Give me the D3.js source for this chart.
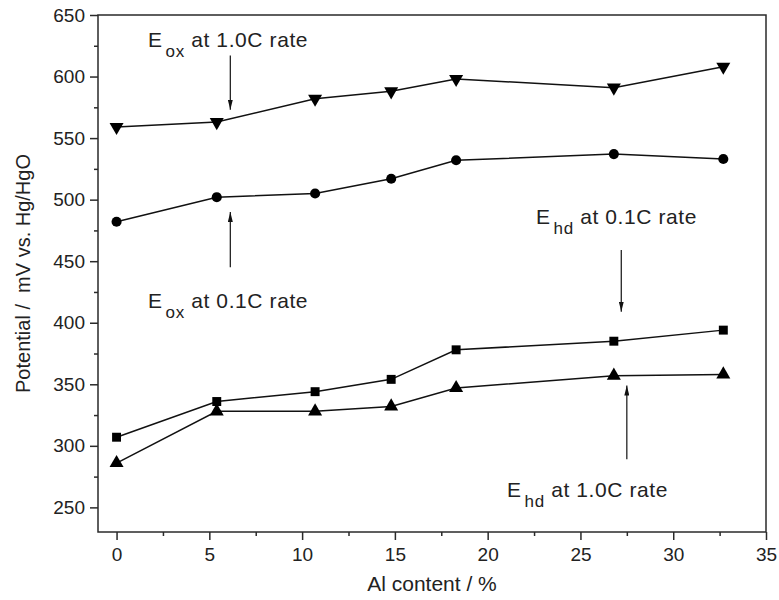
<!DOCTYPE html>
<meta charset="utf-8">
<style>
    body { margin: 0; background: #fff; }
    svg text { font-family: 'Liberation Sans', Arial, sans-serif; fill: #222; }
</style>
<script src="https://d3js.org/d3.v7.min.js"></script>
<div id="graph"></div>
<script>
    // Al content (%) and the four potential series (mV vs. Hg/HgO)
    const alContent = [0, 5.4, 10.7, 14.8, 18.3, 26.8, 32.7];
    const eox10 = [559, 563, 582, 588, 598, 591, 608];   // down triangles
    const eox01 = [482, 502, 505, 517, 532, 537, 533];   // circles
    const ehd01 = [307, 336, 344, 354, 378, 385, 394];   // squares
    const ehd10 = [286, 328, 328, 332, 347, 357, 358];   // up triangles
    const xTicks = [0, 5, 10, 15, 20, 25, 30, 35];
    const yTicks = [250, 300, 350, 400, 450, 500, 550, 600, 650];

    const W = 779, H = 600;
    const margin = {top: 15, right: 13, bottom: 68, left: 98};
    const width = W - margin.left - margin.right,
        height = H - margin.top - margin.bottom;
    const ink = "#2a2a2a";

    const svg = d3.select("#graph").append("svg")
        .attr("width", W).attr("height", H);
    const g = svg.append("g")
        .attr("transform", `translate(${margin.left},${margin.top})`);

    const x = d3.scaleLinear().domain([-1, 35]).range([0, width]);
    const y = d3.scaleLinear().domain([230, 650]).range([height, 0]);

    // frame
    g.append("rect").attr("width", width).attr("height", height)
        .attr("fill", "none").attr("stroke", ink).attr("stroke-width", 1.5);

    // axes: major ticks with labels, minor ticks in between
    g.append("g").attr("transform", `translate(0,${height})`)
        .call(d3.axisBottom(x).tickValues(xTicks).tickSize(8).tickPadding(8).tickFormat(d3.format("d")));
    g.append("g").attr("transform", `translate(0,${height})`)
        .call(d3.axisBottom(x).tickValues(xTicks.slice(0, -1).map(d => d + 2.5)).tickSize(4).tickFormat(""));
    g.append("g")
        .call(d3.axisLeft(y).tickValues(yTicks).tickSize(8).tickPadding(5).tickFormat(d3.format("d")));
    g.append("g")
        .call(d3.axisLeft(y).tickValues(yTicks.slice(0, -1).map(d => d + 25)).tickSize(4).tickFormat(""));

    g.selectAll(".domain").remove();
    g.selectAll(".tick line").attr("stroke", ink).attr("stroke-width", 1.5);
    g.selectAll(".tick text").attr("font-size", 19).attr("fill", "#222")
        .attr("font-family", "'Liberation Sans', Arial, sans-serif");

    // axis titles
    svg.append("text").attr("x", margin.left + width / 2).attr("y", 591)
        .attr("text-anchor", "middle").attr("font-size", 21).text("Al content / %");
    svg.append("text")
        .attr("transform", `translate(30,${margin.top + height / 2}) rotate(-90)`)
        .attr("text-anchor", "middle").attr("font-size", 20)
        .attr("xml:space", "preserve").text("Potential /  mV vs. Hg/HgO");

    // series
    const series = [
        {values: eox10, symbol: d3.symbolTriangle, size: 85, rotate: 180},
        {values: eox01, symbol: d3.symbolCircle, size: 80, rotate: 0},
        {values: ehd01, symbol: d3.symbolSquare, size: 80, rotate: 0},
        {values: ehd10, symbol: d3.symbolTriangle, size: 85, rotate: 0}
    ];
    const line = d3.line().x(d => x(d[0])).y(d => y(d[1]));

    series.forEach(s => {
        const pts = alContent.map((a, i) => [a, s.values[i]]);
        g.append("path").datum(pts).attr("d", line)
            .attr("fill", "none").attr("stroke", "#111").attr("stroke-width", 1.5);
        g.selectAll(null).data(pts).enter().append("path")
            .attr("d", d3.symbol().type(s.symbol).size(s.size))
            .attr("transform", d => `translate(${x(d[0])},${y(d[1])}) rotate(${s.rotate})`)
            .attr("fill", "#000");
    });

    // narrow arrow head
    svg.append("defs").append("marker")
        .attr("id", "head").attr("viewBox", "0 0 10 10")
        .attr("refX", 10).attr("refY", 5)
        .attr("markerWidth", 10).attr("markerHeight", 5)
        .attr("preserveAspectRatio", "none")
        .attr("markerUnits", "userSpaceOnUse")
        .attr("orient", "auto")
        .append("path").attr("d", "M0,0L10,5L0,10z").attr("fill", "#111");

    // annotations: label position in pixels, arrow in data coords
    const notes = [
        {sub: "ox", rest: " at 1.0C rate", tx: 148, ty: 47, ax: 6.13, y0: 617, y1: 573},
        {sub: "ox", rest: " at 0.1C rate", tx: 148, ty: 308, ax: 6.13, y0: 445, y1: 490},
        {sub: "hd", rest: " at 0.1C rate", tx: 536, ty: 224, ax: 27.2, y0: 459, y1: 409},
        {sub: "hd", rest: " at 1.0C rate", tx: 507, ty: 497, ax: 27.5, y0: 289, y1: 349}
    ];
    notes.forEach(n => {
        const t = svg.append("text").attr("x", n.tx).attr("y", n.ty)
            .attr("font-size", 21).attr("letter-spacing", 0.6)
            .attr("xml:space", "preserve");
        t.append("tspan").text("E");
        t.append("tspan").attr("dx", 3).attr("dy", 10).attr("font-size", 17).text(n.sub);
        t.append("tspan").attr("dy", -10).text(n.rest);

        g.append("line")
            .attr("x1", x(n.ax)).attr("x2", x(n.ax))
            .attr("y1", y(n.y0)).attr("y2", y(n.y1))
            .attr("stroke", "#111").attr("stroke-width", 1.2)
            .attr("marker-end", "url(#head)");
    });
</script>
